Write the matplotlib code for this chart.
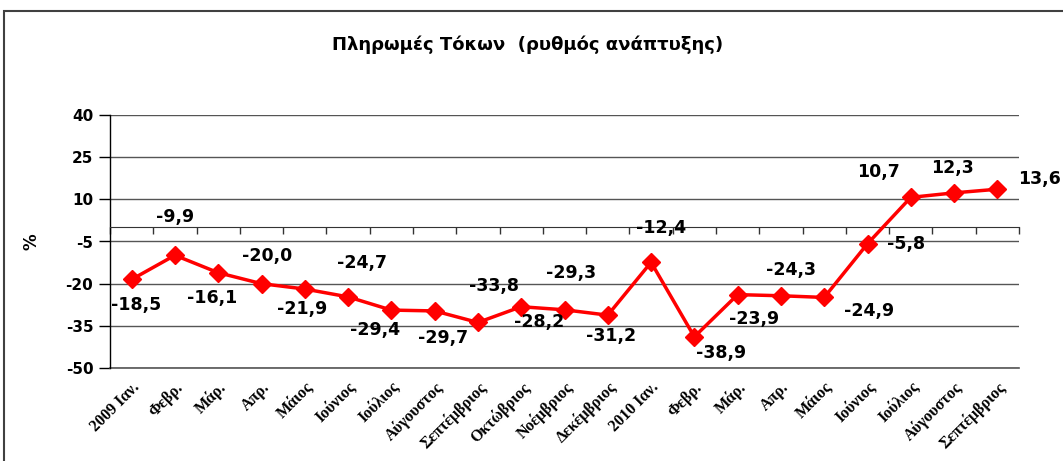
import numpy as np
import matplotlib
matplotlib.use("Agg")
import matplotlib.pyplot as plt
from matplotlib.patches import Rectangle

# 데이터
months = ["2009 Ιαν.", "Φεβρ.", "Μάρ.", "Απρ.", "Μάιος", "Ιούνιος", "Ιούλιος",
          "Αύγουστος", "Σεπτέμβριος", "Οκτώβριος", "Νοέμβριος", "Δεκέμβριος",
          "2010 Ιαν.", "Φεβρ.", "Μάρ.", "Απρ.", "Μάιος", "Ιούνιος", "Ιούλιος",
          "Αύγουστος", "Σεπτέμβριος"]
growth = [-18.5, -9.9, -16.1, -20.0, -21.9, -24.7, -29.4, -29.7, -33.8, -28.2,
          -29.3, -31.2, -12.4, -38.9, -23.9, -24.3, -24.9, -5.8, 10.7, 12.3, 13.6]
yticks = [40, 25, 10, -5, -20, -35, -50]

# 라벨 위치 (pixel offset from point)
label_dx = [4, 0, -6, 6, -3, 14, -16, 8, 16, 18, 7, 3, 10, 27, 16, 10, 45, 39, -32, -2, 42]
label_dy = [26, -38, 25, -28, 20, -34, 20, 27, -36, 15, -37, 21, -34, 16, 24, -26, 14, 0, -25, -25, -10]

fig = plt.figure(figsize=(10.63, 4.61), dpi=100)
fig.patches.append(Rectangle((4 / 1063, -0.1), 1.2, 1 - 11 / 461 + 0.1,
                             transform=fig.transFigure, fill=False,
                             edgecolor="#404040", linewidth=1.5))

ax = fig.add_axes([110 / 1063, 1 - 368 / 461, 909 / 1063, 253 / 461])
x = np.arange(len(growth))

ax.set_ylim(-50, 40)
ax.set_xlim(-0.5, len(growth) - 0.5)
ax.set_yticks(yticks)
ax.set_yticklabels([str(v) for v in yticks], fontsize=11, fontweight="bold")
ax.yaxis.grid(True, color="#555555", linewidth=1)
ax.axhline(-50, color="#555555", linewidth=1.2, clip_on=False, zorder=1)
ax.set_axisbelow(True)
ax.tick_params(axis="y", direction="out", length=8, width=1, pad=4)

for s in ["top", "right"]:
    ax.spines[s].set_visible(False)
ax.spines["left"].set_linewidth(1)
ax.spines["bottom"].set_position(("data", 0))
ax.spines["bottom"].set_color("#333333")
ax.set_xticks(np.arange(len(growth) + 1) - 0.5)
ax.set_xticklabels([])
ax.tick_params(axis="x", direction="out", length=5, width=1, color="#333333")

sec = ax.secondary_xaxis(0)
sec.set_xticks(x)
sec.set_xticklabels(months, rotation=45, ha="right", rotation_mode="anchor",
                    fontsize=11.5, fontweight="bold", family="Liberation Serif")
sec.tick_params(length=0, pad=8)
sec.spines["bottom"].set_visible(False)

ax.plot(x, growth, color="#ff0000", linewidth=2.5, marker="D", markersize=9,
        markeredgecolor="#ff0000", zorder=3)

for i, v in enumerate(growth):
    ax.annotate(f"{v:.1f}".replace(".", ","), (i, v),
                xytext=(label_dx[i] * 0.72, -label_dy[i] * 0.72),
                textcoords="offset points", ha="center", va="center",
                fontsize=12.5, fontweight="bold", annotation_clip=False)

ax.set_ylabel("%", fontsize=12, fontweight="bold", labelpad=18)

fig.text(528 / 1063, 1 - 45 / 461, "Πληρωμές Τόκων  (ρυθμός ανάπτυξης)",
         ha="center", va="center", fontsize=13, fontweight="bold")

fig.savefig("out.png", dpi=100)
